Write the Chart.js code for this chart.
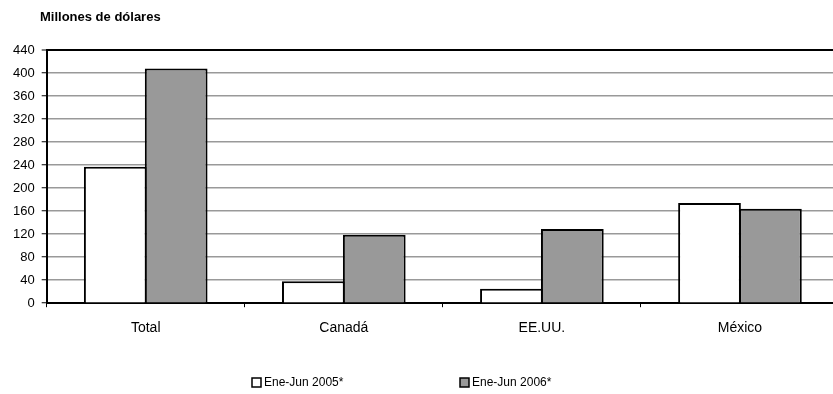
<!DOCTYPE html>
<html><head><meta charset="utf-8">
<script src="https://cdn.jsdelivr.net/npm/chart.js@4/dist/chart.umd.min.js"></script>
<style>
html,body{margin:0;padding:0;overflow:hidden;background:#fff;width:833px;height:394px}
#wrap{position:relative;width:860px;height:394px}
</style></head>
<body><div id="wrap"><canvas id="c"></canvas></div>
<script>
const categories = ['Total', 'Canadá', 'EE.UU.', 'México'];
const seriesLabels = ['Ene-Jun 2005*', 'Ene-Jun 2006*'];
const values2005 = [237, 38, 25, 174];
const values2006 = [408, 119, 129, 164];
const yMin = 0, yMax = 440, yStep = 40;
const unitTitle = 'Millones de dólares';

const FONT = '"Liberation Sans", Arial, sans-serif';

const extras = {
  id: 'extras',
  afterDraw(chart) {
    const ctx = chart.ctx;
    ctx.save();
    ctx.fillStyle = '#000';
    ctx.font = 'bold 13px ' + FONT;
    ctx.textBaseline = 'middle';
    ctx.textAlign = 'left';
    ctx.fillText(unitTitle, 40, 17);
    const xs = [252, 460];
    ctx.font = '12px ' + FONT;
    chart.data.datasets.forEach((ds, i) => {
      const x = xs[i], y = 378;
      ctx.fillStyle = ds.backgroundColor;
      ctx.fillRect(x, y, 9, 9);
      ctx.strokeStyle = '#000';
      ctx.lineWidth = 1.5;
      ctx.strokeRect(x, y, 9, 9);
      ctx.fillStyle = '#000';
      ctx.fillText(ds.label, x + 12, y + 5);
    });
    ctx.restore();
  }
};

new Chart(document.getElementById('c'), {
  type: 'bar',
  data: {
    labels: categories,
    datasets: [
      { label: seriesLabels[0], data: values2005, backgroundColor: '#ffffff', borderColor: '#000', borderWidth: 2,
        categoryPercentage: 0.615, barPercentage: 1.03 },
      { label: seriesLabels[1], data: values2006, backgroundColor: '#999999', borderColor: '#000', borderWidth: 2,
        categoryPercentage: 0.615, barPercentage: 1.03 }
    ]
  },
  options: {
    responsive: true,
    maintainAspectRatio: false,
    animation: false,
    devicePixelRatio: 1,
    layout: { padding: { left: 6, top: 50, right: 21, bottom: 44 } },
    plugins: { legend: { display: false }, title: { display: false }, tooltip: { enabled: false } },
    scales: {
      x: {
        offset: true,
        grid: { offset: true, drawOnChartArea: false, drawTicks: true, tickLength: 4, tickColor: '#000', tickWidth: 1 },
        border: { display: true, color: '#000', width: 2 },
        ticks: { color: '#000', font: { family: FONT, size: 14 }, padding: 13 }
      },
      y: {
        min: yMin, max: yMax,
        ticks: { stepSize: yStep, color: '#000', font: { family: FONT, size: 13 }, padding: 7 },
        grid: {
          color: (c) => (c.tick && c.tick.value === yMax) ? '#000' : '#999999',
          lineWidth: (c) => (c.tick && c.tick.value === yMax) ? 2 : 1.5,
          tickColor: '#000', tickLength: 5, tickWidth: 1
        },
        border: { display: true, color: '#000', width: 2 }
      }
    }
  },
  plugins: [extras]
});
</script>
</body></html>
